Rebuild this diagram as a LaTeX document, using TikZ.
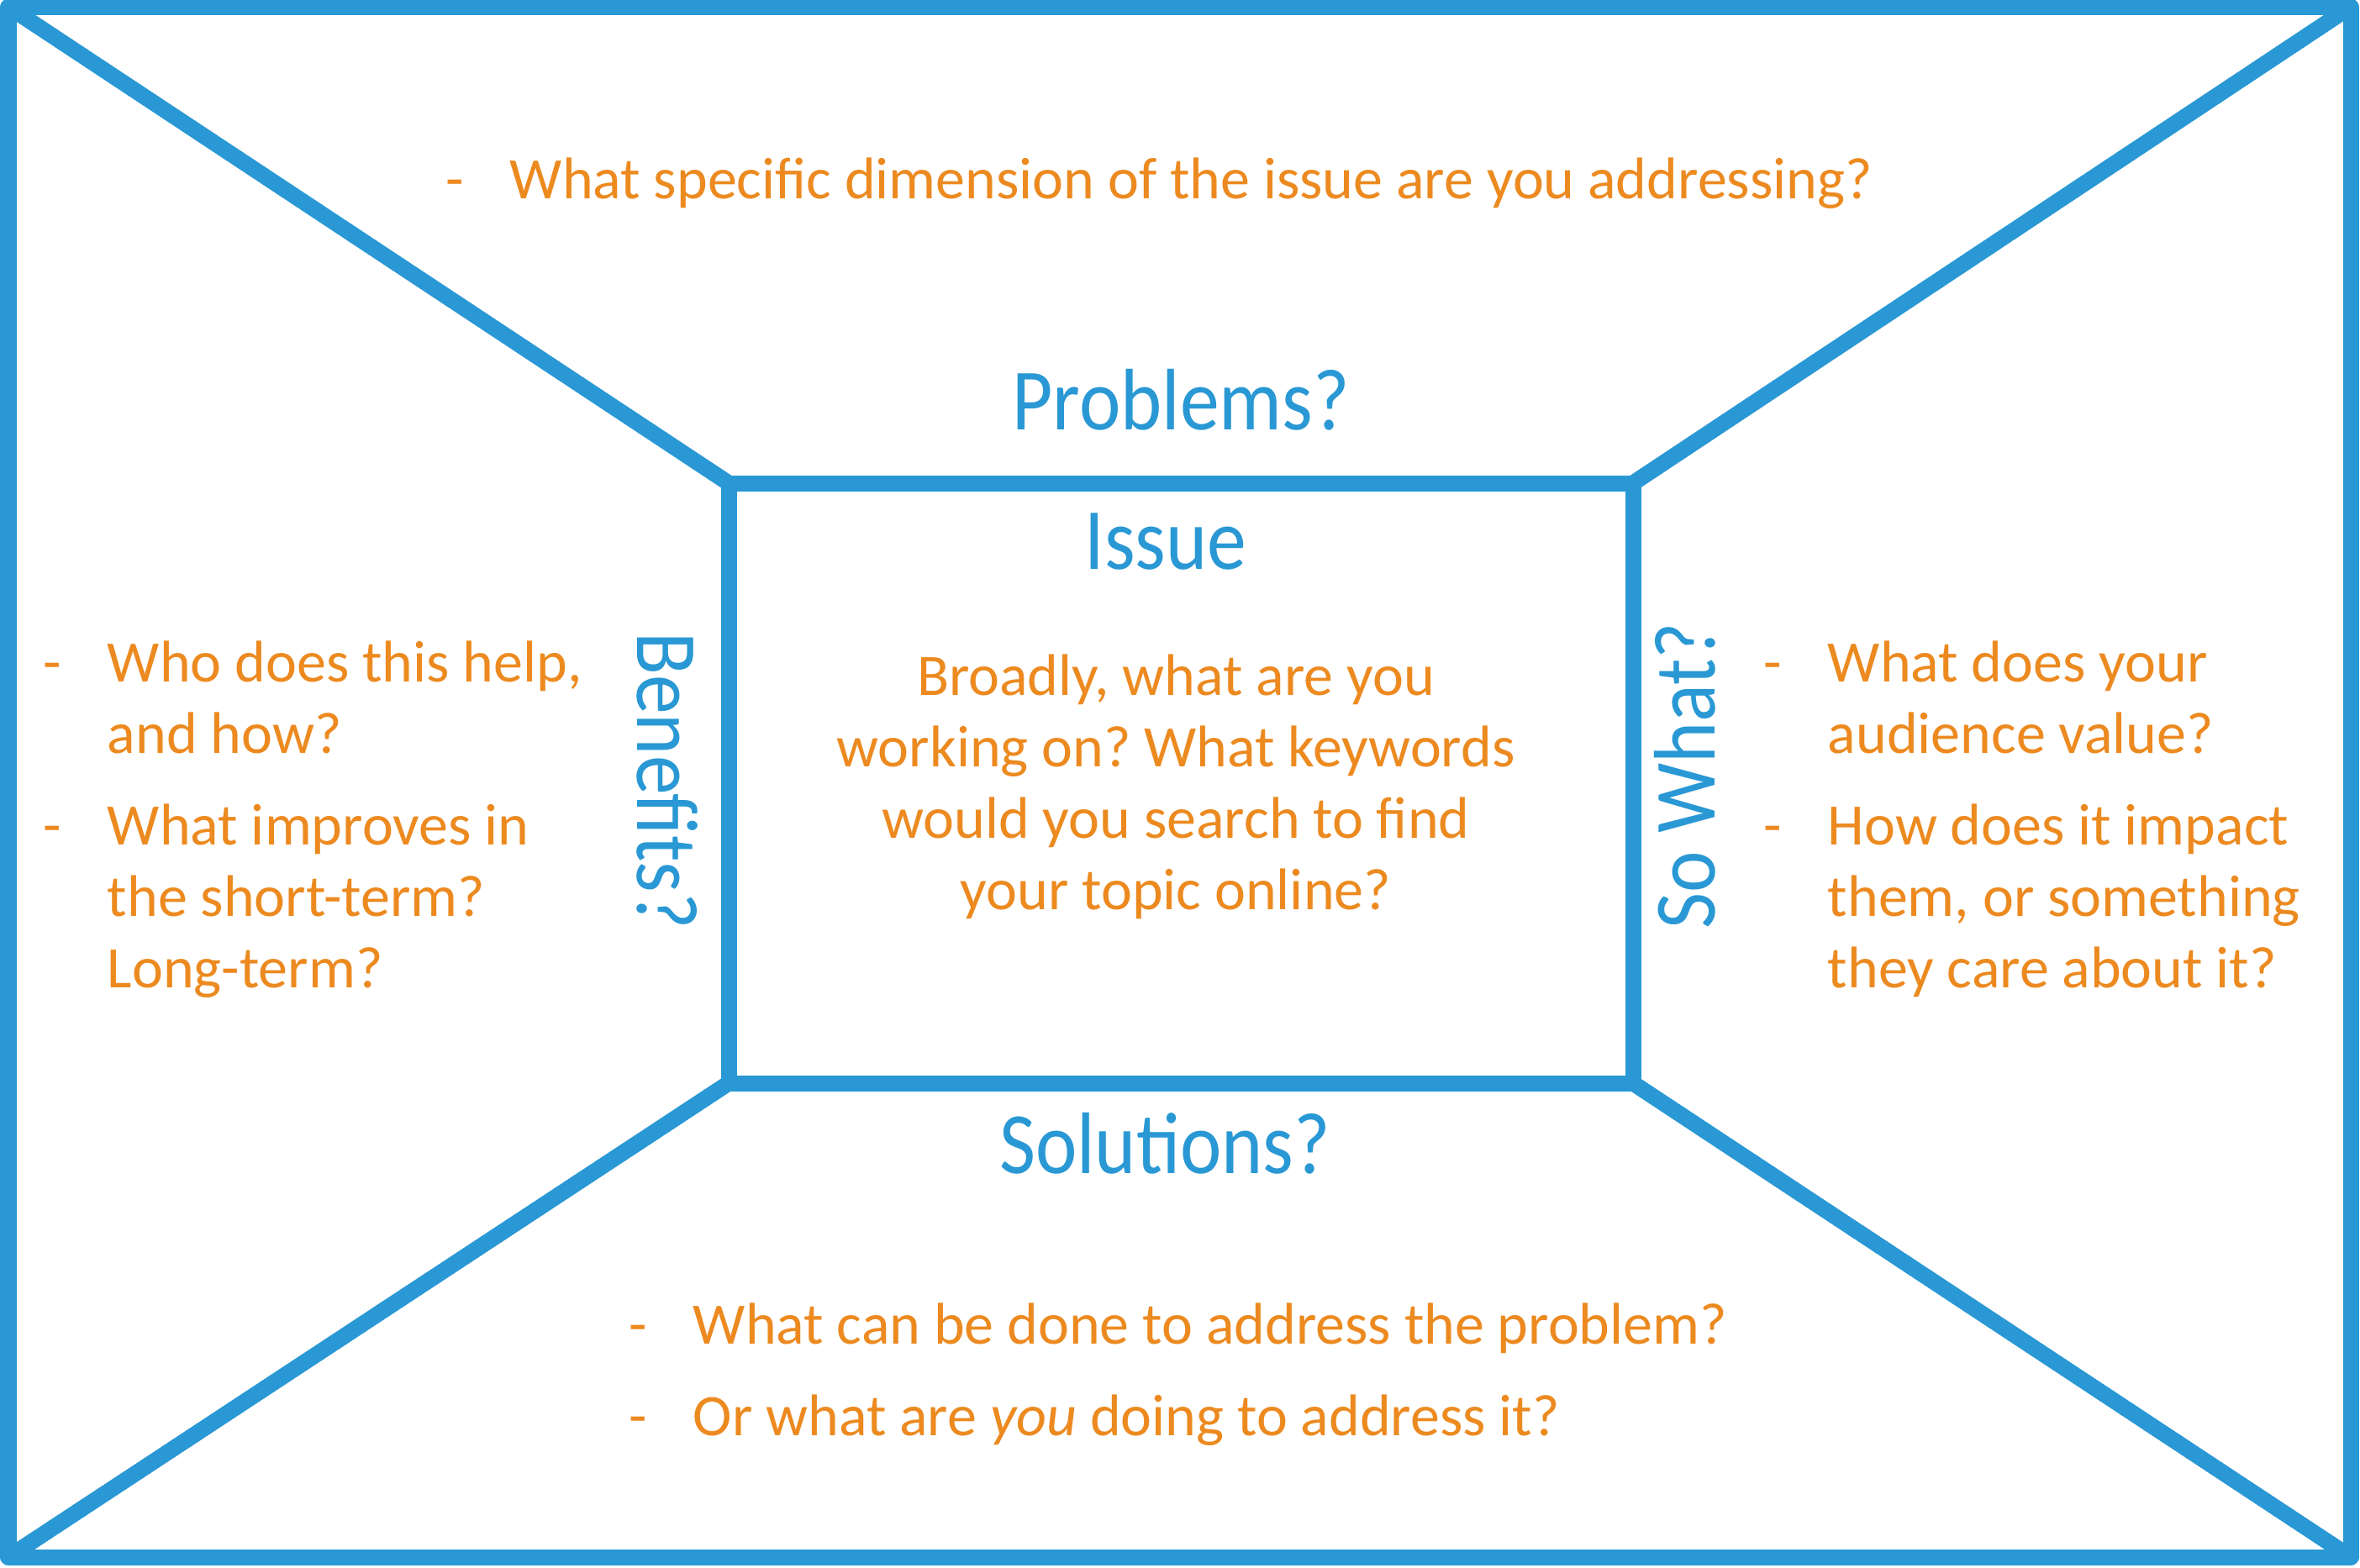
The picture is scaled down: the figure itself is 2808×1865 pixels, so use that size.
\documentclass[tikz,border=0pt]{standalone}
\usepackage{fontspec}
\setmainfont{Carlito}
\newfontfamily\headfont[FakeStretch=0.9]{Carlito}
\definecolor{frameblue}{RGB}{41,152,212}
\definecolor{qorange}{RGB}{236,138,32}
\newcommand\qdash{\makebox[19pt][l]{-}}
\frenchspacing
\begin{document}
\begin{tikzpicture}[x=0.25pt,y=-0.25pt,
  frame/.style={draw=frameblue,line width=4.75pt,line join=round,line cap=round},
  heading/.style={font=\headfont\fontsize{26}{31}\selectfont,text=frameblue,inner sep=0pt,anchor=base},
  question/.style={font=\fontsize{17.5}{21.25}\selectfont,text=qorange,inner sep=0pt,anchor=base west},
  centertext/.style={font=\fontsize{17.5}{21.25}\selectfont,text=qorange,inner sep=0pt,anchor=base}]
\fill[white] (0,0) rectangle (2808,1865);
\useasboundingbox (0,0) rectangle (2808,1865);
% corners
\coordinate (o1) at (10,8);
\coordinate (o2) at (2797,8);
\coordinate (o3) at (2797,1853);
\coordinate (o4) at (10,1853);
\coordinate (i1) at (867,575);
\coordinate (i2) at (1943,575);
\coordinate (i3) at (1943,1289);
\coordinate (i4) at (867,1289);
% frame
\draw[frame] (o1) -- (o2) -- (o3) -- (o4) -- cycle;
\draw[frame] (i1) -- (i2) -- (i3) -- (i4) -- cycle;
\draw[frame] (o1) -- (i1);
\draw[frame] (o2) -- (i2);
\draw[frame] (o3) -- (i3);
\draw[frame] (o4) -- (i4);
% headings
\node[heading] (problems) at (1405,511) {Problems?};
\node[heading] (issue) at (1387,677) {Issue};
\node[heading] (solutions) at (1386,1396) {Solutions?};
\node[heading,rotate=-90] (benefits) at (758,929) {Benefits?};
\node[heading,rotate=90] (sowhat) at (2040,923) {So What?};
% questions
\node[question] (problemsq) at (530,236) {\qdash What specific dimension of the issue are you addressing?};
\node[centertext] (issueq) at (1399,827) {\begin{tabular}[t]{@{}c@{}}Broadly, what are you\\ working on? What keywords\\ would you search to find\\ your topic online?\end{tabular}};
\node[question] (benefitsq) at (51,811) {\begin{tabular}[t]{@{}l@{}l@{}}\qdash & Who does this help,\\ & and how?\\[6pt] \qdash & What improves in\\ & the short-term?\\ & Long-term?\end{tabular}};
\node[question] (sowhatq) at (2098,811) {\begin{tabular}[t]{@{}l@{}l@{}}\qdash & What does your\\ & audience value?\\[6pt] \qdash & How does it impact\\ & them, or something\\ & they care about it?\end{tabular}};
\node[question] (solutionsq) at (748,1599) {\begin{tabular}[t]{@{}l@{}l@{}}\qdash & What can be done to address the problem?\\[6pt] \qdash & Or what are \textit{you} doing to address it?\end{tabular}};
\end{tikzpicture}
\end{document}
